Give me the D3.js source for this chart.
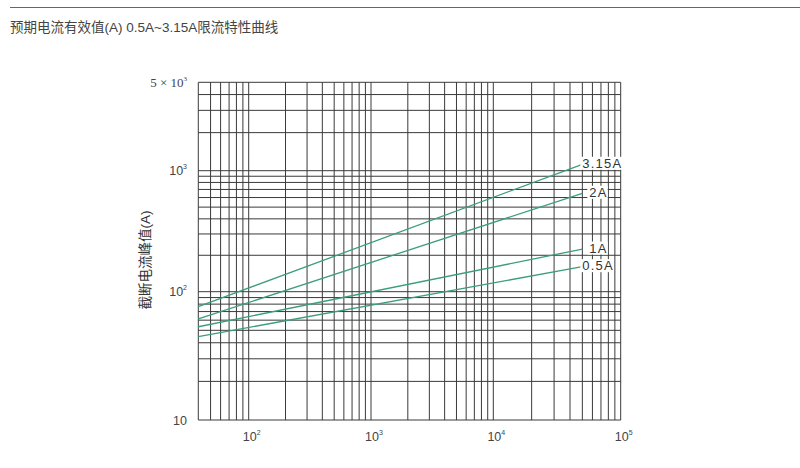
<!DOCTYPE html>
<html>
<head>
<meta charset="utf-8">
<script src="https://cdn.jsdelivr.net/npm/d3@7"></script>
<style>
  body { margin: 0; background: #fff; }
  svg text { font-family: "Liberation Sans", "Noto Sans CJK SC", sans-serif; fill: #333; }
</style>
</head>
<body>
<div id="chart"></div>
<script>
// 数据
const ratings = ['3.15A', '2A', '1A', '0.5A'];
const startCurrent = 40;          // 预期电流起点 (A)
const endCurrent = 50000;         // 预期电流终点 (A)
const peakAtStart = [76.4, 61.3, 53.3, 44.6];
const peakAtEnd = [1124, 650, 225, 161];
const xTickExps = [2, 3, 4, 5];
const yTickLabels = [
  { v: 10, base: '10', sup: '' },
  { v: 100, base: '10', sup: '2' },
  { v: 1000, base: '10', sup: '3' },
  { v: 5000, base: '5 \u00d7 10', sup: '3' }
];

const W = 800, H = 468;
const svg = d3.select('#chart').append('svg')
  .attr('width', W).attr('height', H);

// 顶部分隔线和标题
svg.append('line')
  .attr('x1', 10).attr('x2', W).attr('y1', 7.5).attr('y2', 7.5)
  .style('stroke', '#666').style('stroke-width', 1);
svg.append('text')
  .attr('x', 10).attr('y', 32)
  .style('font-size', '13.5px').style('fill', '#444')
  .text('预期电流有效值(A)  0.5A~3.15A限流特性曲线');

// 比例尺（原图网格并非严格对数，按十倍程分段）
const x = d3.scaleLog()
  .domain([40, 100, 1000, 10000, 100000])
  .range([198.3, 248.7, 371, 493.3, 620.7]);
const y = d3.scaleLog()
  .domain([10, 100, 1000, 5000])
  .range([420, 291.7, 170.7, 82.3]);

// 网格值
const xGrid = [];
for (let d = 10; d <= 10000; d *= 10) {
  for (let m = 1; m <= 9; m++) {
    const v = m * d;
    if (v >= 40) xGrid.push(v);
  }
}
xGrid.push(100000);
const yGrid = [];
for (let d = 10; d <= 1000; d *= 10) {
  for (let m = 1; m <= 9; m++) {
    const v = m * d;
    if (v <= 5000) yGrid.push(v);
  }
}

const grid = svg.append('g');
grid.selectAll('.vx').data(xGrid).enter().append('line')
  .attr('x1', d => x(d)).attr('x2', d => x(d))
  .attr('y1', y(5000)).attr('y2', y(10))
  .style('stroke', '#3a3a3a').style('stroke-width', 1);
grid.selectAll('.hy').data(yGrid).enter().append('line')
  .attr('x1', x(40)).attr('x2', x(100000))
  .attr('y1', d => y(d)).attr('y2', d => y(d))
  .style('stroke', '#3a3a3a').style('stroke-width', 1);

// 曲线
const line = d3.line().x(d => x(d[0])).y(d => y(d[1]));
ratings.forEach((r, i) => {
  const pts = [[startCurrent, peakAtStart[i]], [endCurrent, peakAtEnd[i]]];
  svg.append('path')
    .attr('d', line(pts))
    .style('fill', 'none')
    .style('stroke', '#3a9e7c')
    .style('stroke-width', 1.3);
});

// 曲线标签（白底）
ratings.forEach((r, i) => {
  const lx = x(endCurrent) + (r.length > 3 ? 0 : 7);
  const ly = y(peakAtEnd[i]) - 1;
  const g = svg.append('g');
  const t = g.append('text')
    .attr('x', lx).attr('y', ly)
    .attr('dominant-baseline', 'central')
    .style('font-size', '13px')
    .style('letter-spacing', '1.2px')
    .style('fill', '#333')
    .text(r);
  const bb = t.node().getBBox();
  g.insert('rect', 'text')
    .attr('x', bb.x - 2).attr('y', bb.y + 1)
    .attr('width', bb.width + 2).attr('height', bb.height - 2)
    .style('fill', '#fff');
});

// Y轴刻度标签
yTickLabels.forEach(t => {
  const isTop = t.v === 5000;
  const txt = svg.append('text')
    .attr('x', 187)
    .attr('y', y(t.v) + 4.5)
    .attr('text-anchor', 'end')
    .style('font-size', isTop ? '13px' : '12.5px')
    .style('font-family', isTop ? '"Liberation Serif", serif' : null)
    .style('fill', '#444');
  txt.append('tspan').text(t.base);
  if (t.sup) {
    txt.append('tspan').attr('dy', -6).style('font-size', '7px').text(t.sup);
  }
});

// X轴刻度标签
xTickExps.forEach(e => {
  const txt = svg.append('text')
    .attr('x', x(Math.pow(10, e)) + 3)
    .attr('y', 440.5)
    .attr('text-anchor', 'middle')
    .style('font-size', '12.5px')
    .style('fill', '#444');
  txt.append('tspan').text('10');
  txt.append('tspan').attr('dy', -6).style('font-size', '7px').text(String(e));
});

// Y轴标题
svg.append('text')
  .attr('transform', 'translate(150,260) rotate(-90)')
  .attr('text-anchor', 'middle')
  .style('font-size', '13.5px')
  .style('fill', '#333')
  .text('截断电流峰值(A)');
</script>
</body>
</html>
